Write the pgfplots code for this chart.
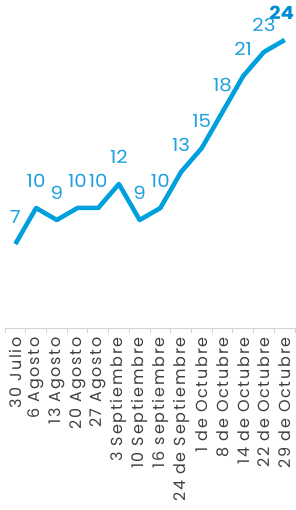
\documentclass[border=0pt]{standalone}
\usepackage{pgfplots}
\pgfplotsset{compat=1.18}
\usepackage{fontspec}
\setmainfont{Poppins}
\newfontfamily\ticklab[LetterSpace=11]{Poppins}
\newfontfamily\datalab[FakeStretch=1.1]{Poppins}
\definecolor{lineblue}{RGB}{0,160,222}
\definecolor{labelblue}{RGB}{30,160,220}
\definecolor{boldblue}{RGB}{0,140,210}
\definecolor{axisgray}{RGB}{210,210,210}
\begin{document}
\begin{tikzpicture}
\begin{axis}[
  scale only axis,
  width=290pt, height=324pt,
  xmin=-0.5, xmax=13.5, ymin=0, ymax=27,
  clip=false,
  hide y axis,
  axis x line=bottom,
  axis line style={draw=axisgray, line width=0.8pt, -},
  xtick={0,...,13},
  xticklabels={30 Julio, 6 Agosto, 13 Agosto, 20 Agosto, 27 Agosto, 3 Septiembre, 10 Septiembre, 16 septiembre, 24 de Septiembre, 1 de Octubre, 8 de Octubre, 14 de Octubre, 22 de Octubre, 29 de Octubre},
  major tick length=0pt,
  minor xtick={-0.5,0.5,...,13.5},
  minor tick length=5pt,
  tick align=outside,
  minor tick style={draw=axisgray, line width=0.8pt},
  xticklabel style={rotate=90, anchor=east, inner sep=0pt, font=\ticklab\fontsize{16}{16}\selectfont, text=black!75},
  xticklabel shift=9pt,
  /pgf/number format/assume math mode=true,
]
\addplot[lineblue, line width=4.5pt, line join=round] coordinates {
(0,7) (1,10) (2,9) (3,10) (4,10) (5,12) (6,9) (7,10) (8,13) (9,15) (10,18) (11,21) (12,23) (13,24)};
\addplot[draw=none, nodes near coords,
  every node near coord/.append style={anchor=base, inner sep=0pt, yshift=20pt, font=\datalab\fontsize{18}{18}\selectfont, text=labelblue}]
coordinates {
(0,7) (1,10) (2,9) (3,10) (4,10) (5,12) (6,9) (7,10) (8,13) (9,15) (10,18) (11,21) (12,23)};
\addplot[draw=none, nodes near coords,
  every node near coord/.append style={anchor=base, inner sep=0pt, yshift=20pt, xshift=-3pt, font=\datalab\fontsize{18}{18}\selectfont\bfseries, text=boldblue}]
coordinates {(13,24)};
\end{axis}
\pgfresetboundingbox
\path[use as bounding box] ([shift={(-5pt,-182pt)}]current axis.south west) rectangle ([shift={(0pt,4pt)}]current axis.north east);
\end{tikzpicture}
\end{document}
